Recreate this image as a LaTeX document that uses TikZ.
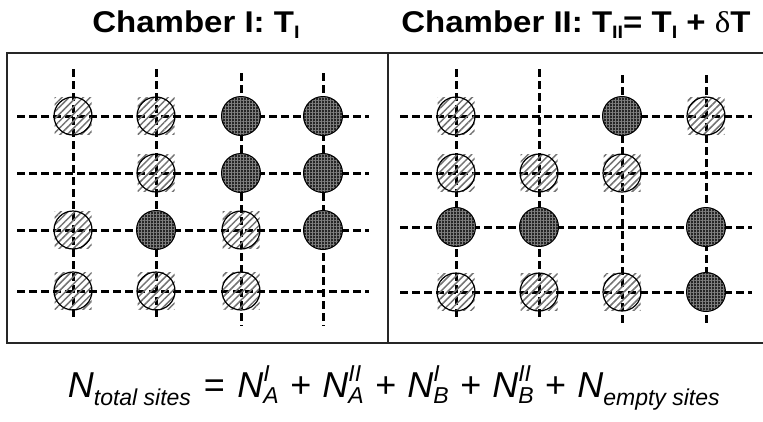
\documentclass[tikz,border=0pt]{standalone}
\usepackage{fontspec}
\setmainfont{Liberation Sans}
\newfontfamily\greekserif{Liberation Serif}
\usetikzlibrary{patterns.meta}
\newcommand\LightSite[2]{%
  \fill[pattern={Lines[angle=45,distance=5pt,line width=1.5pt]},pattern color=black!55]
    (#1,#2) +(-18.5,-18.5) rectangle +(18.5,18.5);
  \draw[line width=1.2pt] (#1,#2) circle[radius=19];}
\newcommand\DarkSite[2]{%
  \fill[black!85] (#1,#2) circle[radius=19.5];
  \fill[pattern={Hatch[distance=3pt,line width=0.6pt]},pattern color=black!50] (#1,#2) circle[radius=19.5];
  \draw[line width=1pt] (#1,#2) circle[radius=19.5];}
\newcommand\Sb[1]{\hbox{\fontsize{23}{23}\selectfont\itshape #1}}
\newcommand\TSub[1]{\raisebox{-6pt}{\fontsize{18}{18}\selectfont #1}}
\newcommand\EqOp[1]{\mkern4mu\hbox{#1}\mkern4mu}
\begin{document}
\begin{tikzpicture}[x=1pt,y=-1pt,
  gridline/.style={line width=3pt, dash pattern=on 7.5pt off 4.5pt},
  frame/.style={line width=1.4pt, draw=black!85},
  title/.style={anchor=base, inner sep=0pt, font=\bfseries\fontsize{30}{36}\selectfont},
  ]
\useasboundingbox (0,0) rectangle (763,421);
% frames
\draw[frame] (7,53) rectangle (388,343);
\draw[frame] (388,53) -- (775,53) (388,343) -- (775,343);
% grid, chamber I
\foreach \y in {116,173,230,291} \draw[gridline] (17,\y) -- (369,\y);
\foreach \x in {73,156} \draw[gridline] (\x,69) -- (\x,320);
\foreach \x in {241,323} \draw[gridline] (\x,73) -- (\x,326);
% grid, chamber II
\foreach \y in {116,173,227,292} \draw[gridline] (400,\y) -- (752,\y);
\foreach \x in {456,539} \draw[gridline] (\x,69) -- (\x,320);
\foreach \x in {622,706} \draw[gridline] (\x,75) -- (\x,326);
% chamber I sites
\LightSite{73}{116} \LightSite{156}{116} \DarkSite{241}{116} \DarkSite{323}{116}
\LightSite{156}{173} \DarkSite{241}{173} \DarkSite{323}{173}
\LightSite{73}{230} \DarkSite{156}{230} \LightSite{241}{230} \DarkSite{323}{230}
\LightSite{73}{291} \LightSite{156}{291} \LightSite{241}{291}
% chamber II sites
\LightSite{456}{116} \DarkSite{622}{116} \LightSite{706}{116}
\LightSite{456}{173} \LightSite{539}{173} \LightSite{622}{173}
\DarkSite{456}{227} \DarkSite{539}{227} \DarkSite{706}{227}
\LightSite{456}{292} \LightSite{539}{292} \LightSite{622}{292} \DarkSite{706}{292}
% titles
\node[title] (t1) at (196,32) {\scalebox{1.1}[1]{Chamber I: T\TSub{I}}};
\node[title] (t2) at (576,32) {\scalebox{1.1}[1]{Chamber II: T\TSub{II}= T\TSub{I} + {\greekserif\mdseries δ}T}};
% equation
\node[anchor=base, inner sep=0pt, font=\fontsize{36}{42}\selectfont] (eq) at (394,397)
 {$\hbox{\itshape N}_{\Sb{total sites}} \mathrel{\EqOp{=}}
   \hbox{\itshape N}^{\Sb{I}}_{\Sb{A}} \mathbin{\EqOp{+}}
   \hbox{\itshape N}^{\Sb{II}}_{\Sb{A}} \mathbin{\EqOp{+}}
   \hbox{\itshape N}^{\Sb{I}}_{\Sb{B}} \mathbin{\EqOp{+}}
   \hbox{\itshape N}^{\Sb{II}}_{\Sb{B}} \mathbin{\EqOp{+}}
   \hbox{\itshape N}_{\Sb{empty sites}}$};
\end{tikzpicture}
\end{document}
